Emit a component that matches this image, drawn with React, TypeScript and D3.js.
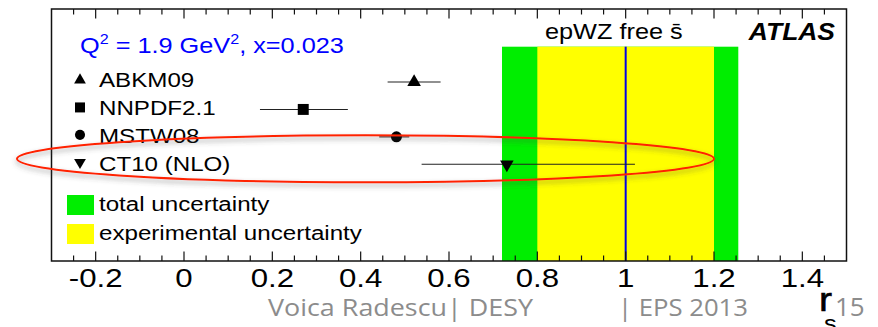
import * as d3 from 'd3';

// r_s values
const models = ['ABKM09', 'NNPDF2.1', 'MSTW08', 'CT10 (NLO)'];
const markers = ['triangle', 'square', 'circle', 'triangleDown'];
const rsCentral = [0.521, 0.27, 0.481, 0.731];
const rsLow = [0.461, 0.172, 0.442, 0.538];
const rsHigh = [0.581, 0.371, 0.51, 1.021];

// epWZ free sbar fit
const fitCentral = 1.0;
const expBand = [0.8, 1.2];
const totalBand = [0.72, 1.255];

const majorTicks = [-0.2, 0, 0.2, 0.4, 0.6, 0.8, 1, 1.2, 1.4];
const legendBands = [
  { label: 'total uncertainty', color: '#00ee00' },
  { label: 'experimental uncertainty', color: '#ffff00' },
];

const W = 878;
const H = 327;
const frame = { left: 51.5, right: 846.5, top: 9, bottom: 261 };
const bandTop = 46.7;
const FONT = '"Liberation Sans", Arial, Helvetica, sans-serif';
const SX = 1.15; // the source picture is stretched sideways

function Marker({ type, x, y, size }: { type: string; x: number; y: number; size: number }) {
  const sym =
    type === 'circle'
      ? d3.symbolCircle
      : type === 'square'
      ? d3.symbolSquare
      : d3.symbolTriangle;
  const path = d3.symbol(sym, size)() ?? '';
  const rot = type === 'triangleDown' ? ' rotate(180)' : '';
  return <path d={path} transform={`translate(${x},${y})${rot}`} fill="#000" />;
}

function SText({ x, y, sx = SX, children, ...rest }: any) {
  return (
    <text transform={`translate(${x},${y}) scale(${sx},1)`} fontFamily={FONT} {...rest}>
      {children}
    </text>
  );
}

export default function App() {
  const x = d3.scaleLinear().domain([-0.3, 1.5]).range([frame.left, frame.right]);
  const y = d3.scalePoint().domain(models).range([82, 164.3]);
  const minorTicks = d3.range(-0.25, 1.5, 0.05).map((v) => Math.round(v * 100) / 100);

  const ellipseLeft = 17;
  const ellipseRight = x(1.2);
  const ellipseCy = (y('CT10 (NLO)') ?? 0) - 5.5;

  return (
    <svg
      width={W}
      height={H}
      style={{ position: 'absolute', left: 0, top: 0, background: '#fff' }}
    >
      <defs>
        <filter id="shadow" x="-10%" y="-50%" width="120%" height="200%">
          <feDropShadow dx="0" dy="3" stdDeviation="2.5" floodColor="#444" floodOpacity="0.5" />
        </filter>
      </defs>

      {/* uncertainty bands */}
      <rect
        x={x(totalBand[0])}
        y={bandTop}
        width={x(totalBand[1]) - x(totalBand[0])}
        height={frame.bottom - bandTop}
        fill="#00ee00"
      />
      <rect
        x={x(expBand[0])}
        y={bandTop}
        width={x(expBand[1]) - x(expBand[0])}
        height={frame.bottom - bandTop}
        fill="#ffff00"
      />
      <line
        x1={x(fitCentral)}
        x2={x(fitCentral)}
        y1={bandTop}
        y2={frame.bottom}
        stroke="#0000e6"
        strokeWidth={2}
      />

      {/* frame */}
      <rect
        x={frame.left}
        y={frame.top}
        width={frame.right - frame.left}
        height={frame.bottom - frame.top}
        fill="none"
        stroke="#111"
        strokeWidth={1.5}
      />

      {/* ticks, bottom and top */}
      {minorTicks.map((t) => {
        const major = majorTicks.some((m) => Math.abs(m - t) < 1e-6);
        const len = major ? 9.5 : 5.5;
        return (
          <g key={t} stroke="#111" strokeWidth={1.2}>
            <line x1={x(t)} x2={x(t)} y1={frame.bottom} y2={frame.bottom - len} />
            <line x1={x(t)} x2={x(t)} y1={frame.top} y2={frame.top + len} />
          </g>
        );
      })}

      {/* tick labels */}
      {majorTicks.map((t) => (
        <SText key={t} x={x(t)} y={286.7} sx={1.2} fontSize={26} textAnchor="middle" fill="#000">
          {String(t)}
        </SText>
      ))}

      {/* axis title */}
      <SText x={819} y={311} fontSize={34} fill="#000" stroke="#000" strokeWidth={0.6}>r</SText>
      <SText x={824} y={331} fontSize={22} fill="#000">s</SText>

      {/* error bars and points */}
      {models.map((m, i) => (
        <g key={m}>
          <line
            x1={x(rsLow[i])}
            x2={x(rsHigh[i])}
            y1={y(m)}
            y2={y(m)}
            stroke="#222"
            strokeWidth={1.1}
          />
          <Marker type={markers[i]} x={x(rsCentral[i])} y={y(m) ?? 0} size={markers[i] === 'circle' ? 95 : markers[i] === 'square' ? 120 : 80} />
        </g>
      ))}

      {/* header texts */}
      <SText x={80} y={53.3} fontSize={22} fill="#0000ff">
        Q<tspan fontSize={14} dy={-9}>2</tspan>
        <tspan dy={9}> = 1.9 GeV</tspan>
        <tspan fontSize={14} dy={-9}>2</tspan>
        <tspan dy={9}>, x=0.023</tspan>
      </SText>
      <SText x={545} y={39} fontSize={22} fill="#000">
        {'epWZ free s\u0304'}
      </SText>
      <SText x={835} y={40} fontSize={23} fill="#000" fontWeight="bold" fontStyle="italic" textAnchor="end">
        ATLAS
      </SText>

      {/* legend: models */}
      {models.map((m, i) => (
        <g key={m}>
          <Marker
            type={markers[i]}
            x={80}
            y={(y(m) ?? 0) - 2}
            size={markers[i] === 'circle' ? 80 : markers[i] === 'square' ? 100 : 60}
          />
          <SText x={99} y={(y(m) ?? 0) + 5 + i * 0.6} fontSize={21} fill="#000">
            {m}
          </SText>
        </g>
      ))}

      {/* legend: bands */}
      {legendBands.map((b, i) => (
        <g key={b.label}>
          <rect x={67} y={195 + i * 29} width={27} height={20} fill={b.color} />
          <SText x={99} y={211 + i * 29} fontSize={21} fill="#000">
            {b.label}
          </SText>
        </g>
      ))}

      {/* red highlight around CT10 */}
      <ellipse
        cx={(ellipseLeft + ellipseRight) / 2}
        cy={ellipseCy}
        rx={(ellipseRight - ellipseLeft) / 2}
        ry={23.5}
        fill="none"
        stroke="#ff2200"
        strokeWidth={2}
        filter="url(#shadow)"
      />

      {/* slide footer */}
      <text
        x={268}
        y={316}
        fontFamily='"Open Sans", sans-serif'
        fontSize={24}
        fill="#8c8c8c"
        textLength={265}
        lengthAdjust="spacingAndGlyphs"
      >
        Voica Radescu| DESY
      </text>
      <text
        x={618}
        y={316}
        fontFamily='"Open Sans", sans-serif'
        fontSize={24}
        fill="#8c8c8c"
        textLength={130}
        lengthAdjust="spacingAndGlyphs"
      >
        | EPS 2013
      </text>
      <text x={835} y={316} fontFamily='"Open Sans", sans-serif' fontSize={26} fill="#8c8c8c">
        15
      </text>
    </svg>
  );
}
